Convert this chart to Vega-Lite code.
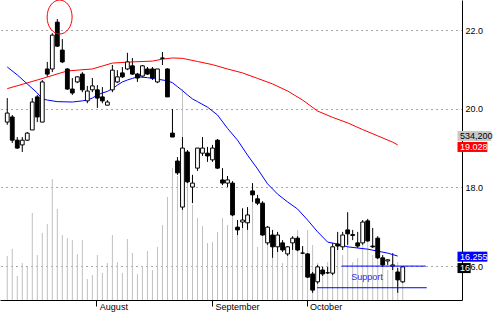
{
  "$schema": "https://vega.github.io/schema/vega-lite/v6.json",
  "width": 462,
  "height": 300,
  "autosize": {"type": "none"},
  "padding": {"left": 0, "top": 0, "right": 38, "bottom": 12},
  "background": "#ffffff",
  "config": {
    "view": {"stroke": null},
    "font": "Liberation Sans",
    "axis": {"labelFont": "Liberation Sans", "labelFontSize": 9, "labelColor": "#000000", "domainColor": "#000000", "tickColor": "#000000", "title": null}
  },
  "datasets": {
    "candles": [
      {"d": 0, "open": 19.66, "high": 20.27, "low": 19.59, "close": 19.89, "volume": 1173000},
      {"d": 1, "open": 19.79, "high": 19.84, "low": 19.13, "close": 19.20, "volume": 1360000},
      {"d": 2, "open": 19.20, "high": 19.28, "low": 18.98, "close": 19.00, "volume": 640000},
      {"d": 3, "open": 19.08, "high": 19.28, "low": 18.90, "close": 19.20, "volume": 987000},
      {"d": 4, "open": 19.20, "high": 19.41, "low": 19.18, "close": 19.38, "volume": 880000},
      {"d": 5, "open": 19.46, "high": 20.27, "low": 19.46, "close": 20.17, "volume": 2320000},
      {"d": 6, "open": 20.30, "high": 20.35, "low": 19.66, "close": 19.79, "volume": 1200000},
      {"d": 7, "open": 19.66, "high": 20.73, "low": 19.66, "close": 20.68, "volume": 1787000},
      {"d": 8, "open": 21.01, "high": 21.19, "low": 20.81, "close": 20.88, "volume": 2027000},
      {"d": 9, "open": 21.01, "high": 21.92, "low": 20.93, "close": 21.87, "volume": 3227000},
      {"d": 10, "open": 22.20, "high": 22.28, "low": 21.57, "close": 21.59, "volume": 2427000},
      {"d": 11, "open": 21.49, "high": 21.77, "low": 21.16, "close": 21.19, "volume": 1733000},
      {"d": 12, "open": 21.01, "high": 21.03, "low": 20.48, "close": 20.50, "volume": 1653000},
      {"d": 13, "open": 20.50, "high": 20.78, "low": 20.35, "close": 20.40, "volume": 1600000},
      {"d": 14, "open": 20.68, "high": 20.83, "low": 20.65, "close": 20.81, "volume": 1227000},
      {"d": 15, "open": 20.88, "high": 20.93, "low": 20.42, "close": 20.48, "volume": 1600000},
      {"d": 16, "open": 20.20, "high": 20.58, "low": 20.14, "close": 20.45, "volume": 560000},
      {"d": 17, "open": 20.48, "high": 20.78, "low": 20.42, "close": 20.58, "volume": 667000},
      {"d": 18, "open": 20.48, "high": 20.60, "low": 20.02, "close": 20.27, "volume": 1200000},
      {"d": 19, "open": 20.30, "high": 20.55, "low": 20.14, "close": 20.20, "volume": 720000},
      {"d": 20, "open": 20.09, "high": 20.22, "low": 20.09, "close": 20.17, "volume": 987000},
      {"d": 21, "open": 20.48, "high": 21.11, "low": 20.42, "close": 20.98, "volume": 1733000},
      {"d": 22, "open": 20.68, "high": 20.98, "low": 20.65, "close": 20.81, "volume": 1013000},
      {"d": 23, "open": 20.91, "high": 21.06, "low": 20.78, "close": 20.81, "volume": 720000},
      {"d": 24, "open": 21.01, "high": 21.42, "low": 20.98, "close": 21.19, "volume": 1627000},
      {"d": 25, "open": 21.09, "high": 21.29, "low": 20.86, "close": 20.88, "volume": 1253000},
      {"d": 26, "open": 20.88, "high": 20.91, "low": 20.68, "close": 20.78, "volume": 693000},
      {"d": 27, "open": 20.83, "high": 21.11, "low": 20.81, "close": 21.09, "volume": 907000},
      {"d": 28, "open": 21.01, "high": 21.06, "low": 20.86, "close": 20.88, "volume": 1307000},
      {"d": 29, "open": 21.01, "high": 21.06, "low": 20.73, "close": 20.78, "volume": 800000},
      {"d": 30, "open": 20.68, "high": 21.01, "low": 20.65, "close": 21.01, "volume": 1413000},
      {"d": 31, "open": 21.28, "high": 21.44, "low": 21.11, "close": 21.29, "volume": 2000000},
      {"d": 32, "open": 21.01, "high": 21.03, "low": 20.30, "close": 20.30, "volume": 2747000},
      {"d": 33, "open": 19.38, "high": 19.99, "low": 19.28, "close": 19.28, "volume": 3520000},
      {"d": 34, "open": 18.67, "high": 18.77, "low": 18.32, "close": 18.37, "volume": 3307000},
      {"d": 35, "open": 17.50, "high": 19.28, "low": 17.43, "close": 19.00, "volume": 5627000},
      {"d": 36, "open": 18.90, "high": 18.95, "low": 18.11, "close": 18.14, "volume": 3147000},
      {"d": 37, "open": 18.01, "high": 18.32, "low": 17.60, "close": 18.11, "volume": 2533000},
      {"d": 38, "open": 18.49, "high": 19.00, "low": 18.42, "close": 19.00, "volume": 2187000},
      {"d": 39, "open": 18.87, "high": 19.28, "low": 18.80, "close": 19.00, "volume": 1973000},
      {"d": 40, "open": 18.87, "high": 19.03, "low": 18.65, "close": 18.80, "volume": 1520000},
      {"d": 41, "open": 18.70, "high": 19.08, "low": 18.65, "close": 19.00, "volume": 1547000},
      {"d": 42, "open": 19.20, "high": 19.23, "low": 18.47, "close": 18.49, "volume": 1813000},
      {"d": 43, "open": 18.19, "high": 18.49, "low": 18.06, "close": 18.11, "volume": 2187000},
      {"d": 44, "open": 18.11, "high": 18.29, "low": 18.01, "close": 18.19, "volume": 2000000},
      {"d": 45, "open": 18.11, "high": 18.16, "low": 17.27, "close": 17.30, "volume": 2267000},
      {"d": 46, "open": 16.99, "high": 17.17, "low": 16.79, "close": 16.92, "volume": 1733000},
      {"d": 47, "open": 17.12, "high": 17.47, "low": 16.97, "close": 17.17, "volume": 1947000},
      {"d": 48, "open": 17.10, "high": 17.50, "low": 16.92, "close": 17.30, "volume": 1867000},
      {"d": 49, "open": 17.91, "high": 18.11, "low": 17.63, "close": 17.81, "volume": 2613000},
      {"d": 50, "open": 17.71, "high": 17.81, "low": 17.55, "close": 17.60, "volume": 1413000},
      {"d": 51, "open": 17.60, "high": 17.65, "low": 16.77, "close": 16.79, "volume": 1920000},
      {"d": 52, "open": 16.59, "high": 17.02, "low": 16.54, "close": 16.99, "volume": 1520000},
      {"d": 53, "open": 16.79, "high": 16.92, "low": 16.21, "close": 16.49, "volume": 1120000},
      {"d": 54, "open": 16.49, "high": 16.87, "low": 16.36, "close": 16.79, "volume": 1333000},
      {"d": 55, "open": 16.59, "high": 16.66, "low": 16.36, "close": 16.41, "volume": 987000},
      {"d": 56, "open": 16.31, "high": 16.51, "low": 16.26, "close": 16.49, "volume": 1253000},
      {"d": 57, "open": 16.59, "high": 16.76, "low": 16.41, "close": 16.71, "volume": 1520000},
      {"d": 58, "open": 16.71, "high": 16.76, "low": 16.38, "close": 16.41, "volume": 1867000},
      {"d": 59, "open": 16.33, "high": 16.51, "low": 16.31, "close": 16.33, "volume": 1333000},
      {"d": 60, "open": 16.31, "high": 16.33, "low": 15.70, "close": 15.72, "volume": 1867000},
      {"d": 61, "open": 15.80, "high": 15.85, "low": 15.32, "close": 15.39, "volume": 1467000},
      {"d": 62, "open": 15.60, "high": 16.03, "low": 15.55, "close": 15.98, "volume": 987000},
      {"d": 63, "open": 15.90, "high": 15.98, "low": 15.75, "close": 15.80, "volume": 800000},
      {"d": 64, "open": 15.83, "high": 15.98, "low": 15.80, "close": 15.83, "volume": 1013000},
      {"d": 65, "open": 15.82, "high": 16.59, "low": 15.77, "close": 16.49, "volume": 1333000},
      {"d": 66, "open": 16.56, "high": 16.87, "low": 16.41, "close": 16.51, "volume": 1600000},
      {"d": 67, "open": 16.49, "high": 16.87, "low": 16.41, "close": 16.79, "volume": 1200000},
      {"d": 68, "open": 16.92, "high": 17.37, "low": 16.54, "close": 16.82, "volume": 1733000},
      {"d": 69, "open": 16.80, "high": 16.92, "low": 16.66, "close": 16.78, "volume": 1013000},
      {"d": 70, "open": 16.59, "high": 16.87, "low": 16.46, "close": 16.51, "volume": 1120000},
      {"d": 71, "open": 16.59, "high": 17.17, "low": 16.54, "close": 17.12, "volume": 1467000},
      {"d": 72, "open": 17.15, "high": 17.20, "low": 16.62, "close": 16.64, "volume": 1600000},
      {"d": 73, "open": 16.51, "high": 16.97, "low": 16.46, "close": 16.49, "volume": 1200000},
      {"d": 74, "open": 16.71, "high": 16.76, "low": 16.18, "close": 16.21, "volume": 1333000},
      {"d": 75, "open": 16.21, "high": 16.28, "low": 15.98, "close": 16.03, "volume": 933000},
      {"d": 76, "open": 16.13, "high": 16.18, "low": 16.03, "close": 16.16, "volume": 800000},
      {"d": 77, "open": 16.00, "high": 16.33, "low": 15.90, "close": 16.03, "volume": 1067000},
      {"d": 78, "open": 15.85, "high": 15.95, "low": 15.32, "close": 15.65, "volume": 1013000},
      {"d": 79, "open": 15.60, "high": 16.00, "low": 15.57, "close": 15.98, "volume": 534200}
    ],
    "ma50": [
      {"d": 0, "v": 20.51}, {"d": 6, "v": 20.73}, {"d": 12, "v": 20.96}, {"d": 17, "v": 21.01},
      {"d": 21, "v": 21.16}, {"d": 25, "v": 21.19}, {"d": 29, "v": 21.21}, {"d": 31, "v": 21.26},
      {"d": 33, "v": 21.29}, {"d": 35, "v": 21.28}, {"d": 38, "v": 21.20}, {"d": 41, "v": 21.12},
      {"d": 44, "v": 21.01}, {"d": 47, "v": 20.91}, {"d": 50, "v": 20.77}, {"d": 53, "v": 20.63},
      {"d": 56, "v": 20.45}, {"d": 59, "v": 20.22}, {"d": 62, "v": 19.94}, {"d": 65, "v": 19.78},
      {"d": 68, "v": 19.64}, {"d": 71, "v": 19.47}, {"d": 74, "v": 19.31}, {"d": 77, "v": 19.15},
      {"d": 78, "v": 19.08}
    ],
    "ma20": [
      {"d": 0, "v": 21.06}, {"d": 2, "v": 20.86}, {"d": 4, "v": 20.63}, {"d": 6, "v": 20.40},
      {"d": 7, "v": 20.25}, {"d": 8, "v": 20.22}, {"d": 10, "v": 20.18}, {"d": 13, "v": 20.17},
      {"d": 15, "v": 20.20}, {"d": 16, "v": 20.22}, {"d": 17, "v": 20.27}, {"d": 18, "v": 20.35},
      {"d": 19, "v": 20.40}, {"d": 20, "v": 20.44}, {"d": 21, "v": 20.51}, {"d": 22, "v": 20.60},
      {"d": 23, "v": 20.68}, {"d": 24, "v": 20.73}, {"d": 25, "v": 20.77}, {"d": 26, "v": 20.81},
      {"d": 28, "v": 20.79}, {"d": 30, "v": 20.75}, {"d": 32, "v": 20.71}, {"d": 33, "v": 20.66},
      {"d": 34, "v": 20.56}, {"d": 35, "v": 20.46}, {"d": 36, "v": 20.35}, {"d": 37, "v": 20.25},
      {"d": 38, "v": 20.18}, {"d": 40, "v": 20.04}, {"d": 42, "v": 19.84}, {"d": 44, "v": 19.50},
      {"d": 46, "v": 19.20}, {"d": 48, "v": 18.82}, {"d": 50, "v": 18.47}, {"d": 52, "v": 18.09},
      {"d": 54, "v": 17.83}, {"d": 56, "v": 17.63}, {"d": 58, "v": 17.45}, {"d": 60, "v": 17.17},
      {"d": 62, "v": 16.87}, {"d": 64, "v": 16.61}, {"d": 66, "v": 16.56}, {"d": 68, "v": 16.49},
      {"d": 70, "v": 16.46}, {"d": 72, "v": 16.43}, {"d": 74, "v": 16.38}, {"d": 76, "v": 16.33},
      {"d": 78, "v": 16.255}
    ],
    "support": [
      {"from": 66.8, "to": 83.6, "price": 16.0},
      {"from": 61.9, "to": 83.8, "price": 15.45}
    ],
    "notes": [
      {"d": 71.86, "price": 15.73, "label": "Support"}
    ],
    "circle": [
      {"d": 10.46, "price": 22.33}
    ],
    "tags": [
      {"kind": "volume", "label": "534,200", "price": 19.306},
      {"kind": "ma50", "label": "19.028", "price": 19.028},
      {"kind": "ma20", "label": "16.255", "price": 16.24},
      {"kind": "close", "label": "16", "price": 15.95}
    ]
  },
  "layer": [
    {
      "data": {"name": "candles"},
      "mark": {"type": "rule", "color": "#c0c0c0", "strokeWidth": 1},
      "encoding": {
        "x": {
          "field": "d", "type": "quantitative",
          "scale": {"domain": [-0.45, 89.84], "nice": false, "zero": false},
          "axis": {
            "orient": "bottom", "values": [17.8, 40.9, 59.8],
            "labelExpr": "datum.value < 30 ? 'August' : (datum.value < 50 ? 'September' : 'October')",
            "grid": false, "ticks": true, "tickSize": 6, "tickColor": "#000000", "tickWidth": 1,
            "labelAlign": "left", "labelBaseline": "top", "labelPadding": -4, "labelOffset": 3,
            "labelFontSize": 9, "labelFlush": false, "labelOverlap": false,
            "domain": true, "domainColor": "#000000", "domainWidth": 1, "title": null
          }
        },
        "y": {"field": "volume", "type": "quantitative", "scale": {"domain": [0, 8000000], "nice": false, "zero": true}, "axis": null},
        "y2": {"datum": 0}
      }
    },
    {
      "layer": [
        {
          "data": {"name": "candles"},
          "mark": {"type": "rule", "color": "#000000", "strokeWidth": 1},
          "encoding": {
            "x": {"field": "d", "type": "quantitative"},
            "y": {
              "field": "low", "type": "quantitative",
              "scale": {"domain": [15.1385, 22.763], "nice": false, "zero": false},
              "axis": {
                "orient": "right", "values": [16, 18, 20, 22], "format": ".1f",
                "ticks": false, "labelPadding": 3, "labelFontSize": 9, "labelBaseline": "middle",
                "grid": true, "gridDash": [1, 4], "gridColor": "#505050", "gridWidth": 1,
                "domain": true, "domainColor": "#000000", "domainWidth": 1, "title": null
              }
            },
            "y2": {"field": "high"}
          }
        },
        {
          "data": {"name": "ma50"},
          "mark": {"type": "line", "color": "#ff0000", "strokeWidth": 1},
          "encoding": {
            "x": {"field": "d", "type": "quantitative"},
            "y": {"field": "v", "type": "quantitative"}
          }
        },
        {
          "data": {"name": "ma20"},
          "mark": {"type": "line", "color": "#0000ff", "strokeWidth": 1},
          "encoding": {
            "x": {"field": "d", "type": "quantitative"},
            "y": {"field": "v", "type": "quantitative"}
          }
        },
        {
          "data": {"name": "candles"},
          "mark": {"type": "bar", "width": 3.8, "stroke": "#000000", "strokeWidth": 1},
          "encoding": {
            "x": {"field": "d", "type": "quantitative"},
            "y": {"field": "open", "type": "quantitative"},
            "y2": {"field": "close"},
            "fill": {"condition": {"test": "datum.close > datum.open", "value": "#ffffff"}, "value": "#000000"}
          }
        },
        {
          "data": {"name": "support"},
          "mark": {"type": "rule", "color": "#0000ff", "strokeWidth": 1},
          "encoding": {
            "x": {"field": "from", "type": "quantitative"},
            "x2": {"field": "to"},
            "y": {"field": "price", "type": "quantitative"}
          }
        },
        {
          "data": {"name": "notes"},
          "mark": {"type": "text", "fontSize": 9, "font": "Liberation Sans", "color": "#2b2bdf", "align": "center", "baseline": "middle"},
          "encoding": {
            "x": {"field": "d", "type": "quantitative"},
            "y": {"field": "price", "type": "quantitative"},
            "text": {"field": "label"}
          }
        },
        {
          "data": {"name": "circle"},
          "mark": {"type": "point", "filled": false, "stroke": "#ff0000", "strokeWidth": 1, "opacity": 1, "size": 1156,
                   "shape": "M -0.735 0 A 0.735 1 0 1 0 0.735 0 A 0.735 1 0 1 0 -0.735 0 Z"},
          "encoding": {
            "x": {"field": "d", "type": "quantitative"},
            "y": {"field": "price", "type": "quantitative"}
          }
        },
        {
          "data": {"name": "tags"},
          "transform": [{"filter": "datum.kind == 'ma50' || datum.kind == 'ma20'"}],
          "mark": {"type": "rect", "yOffset": -5, "y2Offset": 5},
          "encoding": {
            "x": {"datum": 89.94},
            "x2": {"datum": 95.9},
            "y": {"field": "price", "type": "quantitative"},
            "y2": {"field": "price"},
            "fill": {"field": "kind", "type": "nominal", "scale": {"domain": ["volume", "ma50", "ma20", "close"], "range": ["#c8c8c8", "#ff0000", "#0000ff", "#000000"]}, "legend": null}
          }
        },
        {
          "data": {"name": "tags"},
          "transform": [{"filter": "datum.kind == 'volume'"}],
          "mark": {"type": "rect", "yOffset": -5, "y2Offset": 5},
          "encoding": {
            "x": {"datum": 89.94},
            "x2": {"datum": 96.68},
            "y": {"field": "price", "type": "quantitative"},
            "y2": {"field": "price"},
            "fill": {"field": "kind", "type": "nominal", "legend": null}
          }
        },
        {
          "data": {"name": "tags"},
          "transform": [{"filter": "datum.kind == 'close'"}],
          "mark": {"type": "rect", "yOffset": -5, "y2Offset": 5},
          "encoding": {
            "x": {"datum": 89.94},
            "x2": {"datum": 92.57},
            "y": {"field": "price", "type": "quantitative"},
            "y2": {"field": "price"},
            "fill": {"field": "kind", "type": "nominal", "legend": null}
          }
        },
        {
          "data": {"name": "tags"},
          "mark": {"type": "text", "align": "left", "baseline": "middle", "dx": 2.5, "fontSize": 9, "font": "Liberation Sans"},
          "encoding": {
            "x": {"datum": 89.94},
            "y": {"field": "price", "type": "quantitative"},
            "text": {"field": "label"},
            "color": {"condition": {"test": "datum.kind == 'volume'", "value": "#000000"}, "value": "#ffffff"}
          }
        }
      ]
    }
  ],
  "resolve": {"scale": {"y": "independent"}}
}
